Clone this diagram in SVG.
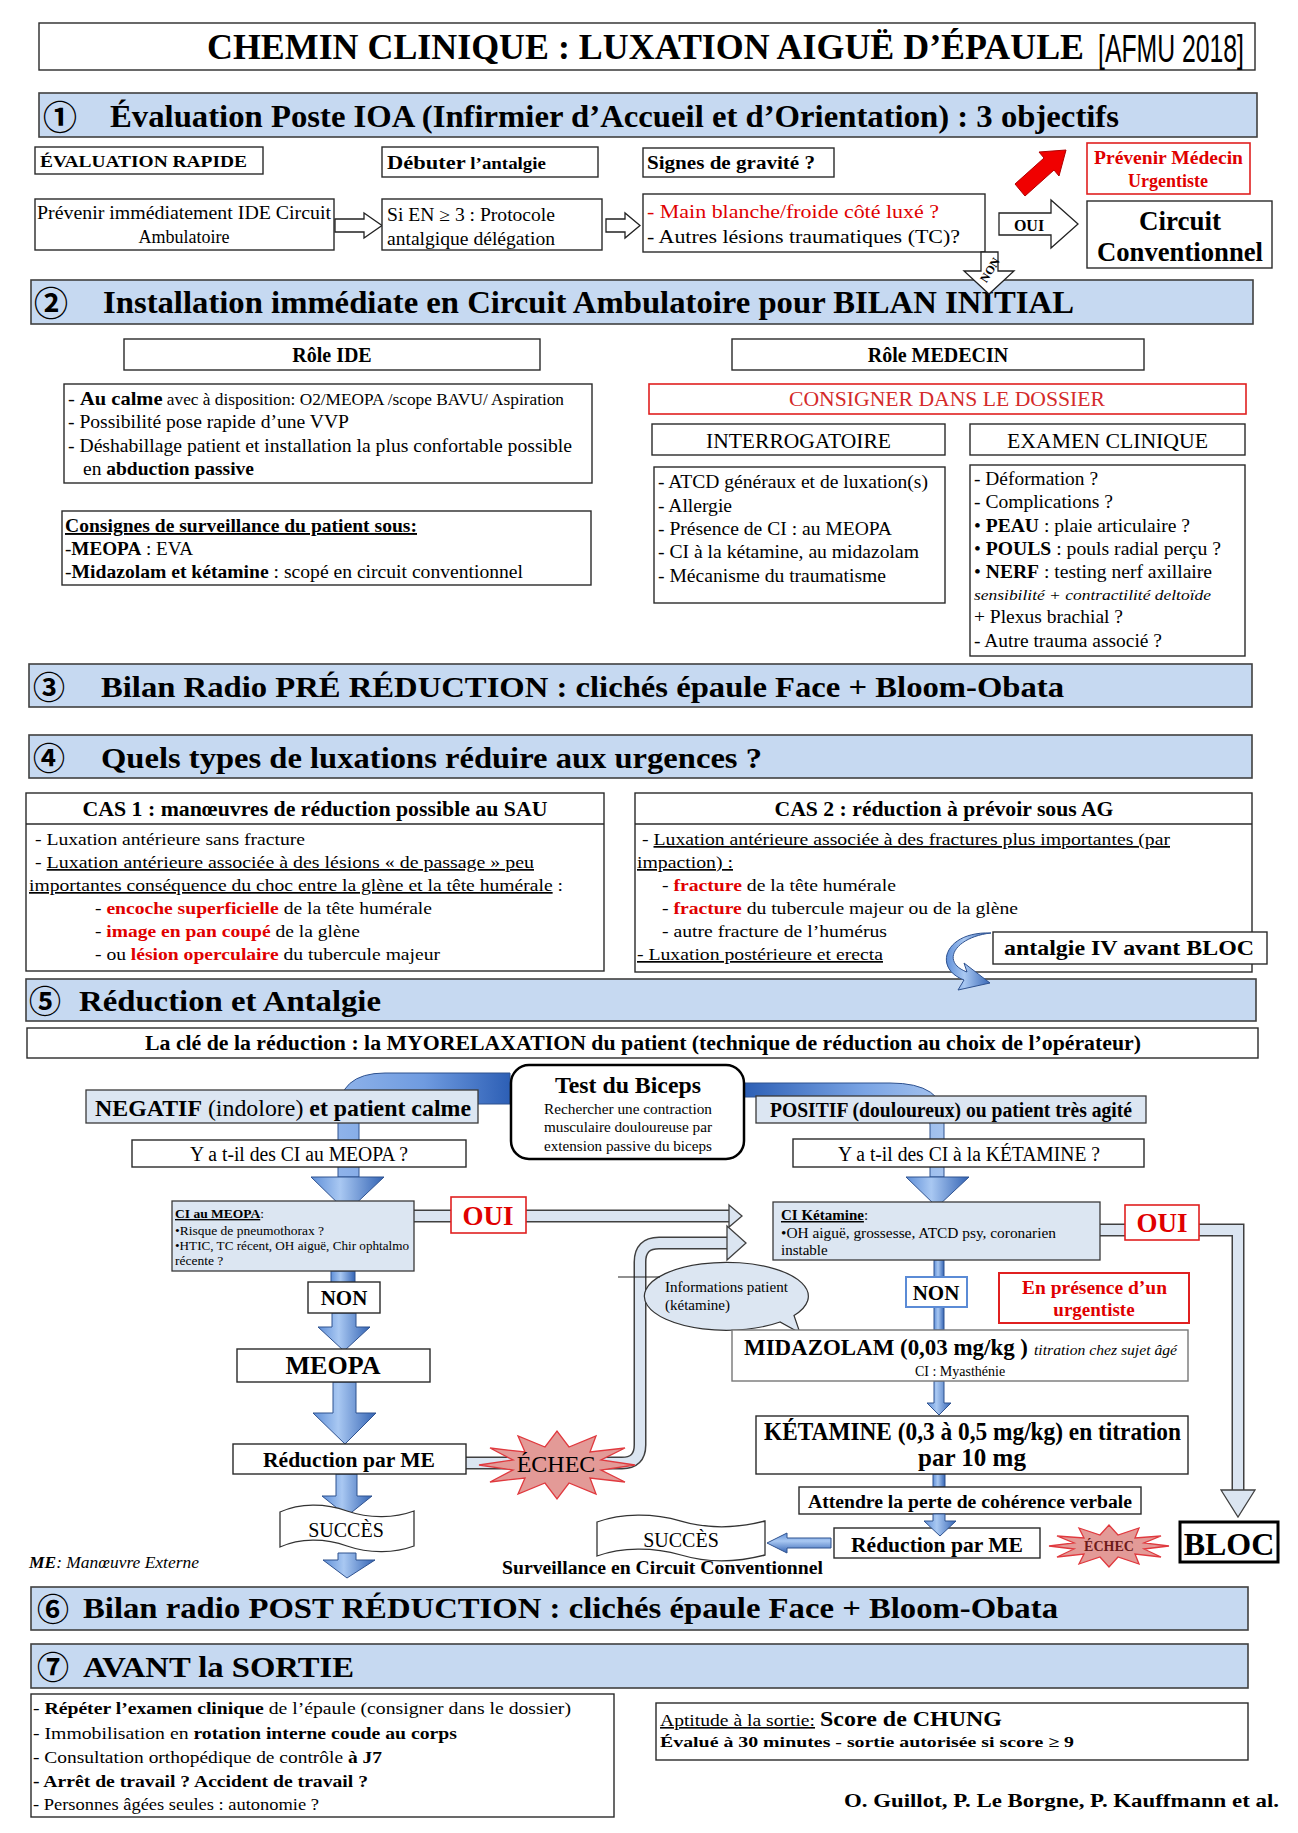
<svg xmlns="http://www.w3.org/2000/svg" width="1298" height="1833" viewBox="0 0 1298 1833">
<defs>
<style>
text{font-family:'Liberation Serif','Times New Roman',serif;fill:#000}
.b{font-weight:bold}
.i{font-style:italic}
.r{fill:#e00000}
.r2{fill:#d42a2a}
.u{text-decoration:underline}
.c{text-anchor:middle}
.box{fill:#fff;stroke:#2a2a2a;stroke-width:1.4}
.bar{fill:#c6d9f1;stroke:#404040;stroke-width:1.6}
.lb{fill:#dce6f2;stroke:#3a3a3a;stroke-width:1.3}
.rbox{fill:#fff;stroke:#e02020;stroke-width:1.6}
.num{font-family:'Noto Sans CJK JP','DejaVu Sans',sans-serif;text-anchor:middle;font-weight:bold}
.harrow{fill:#fff;stroke:#222;stroke-width:1.3}
.bo{fill:none;stroke:#404040;stroke-width:13}
.bi{fill:none;stroke:#dbe5f1;stroke-width:10}
.bh{fill:#dbe5f1;stroke:#404040;stroke-width:1.3}
.ga{fill:url(#gA);stroke:#2f528f;stroke-width:1}
.gv{fill:url(#gAv);stroke:#2f528f;stroke-width:1}
.star{fill:#e39a97;stroke:#e0393e;stroke-width:1.3}
</style>
<linearGradient id="gA" x1="0" y1="0" x2="1" y2="0">
<stop offset="0" stop-color="#5f8fd8"/><stop offset="0.4" stop-color="#a9c8f2"/><stop offset="1" stop-color="#3464b4"/>
</linearGradient>
<linearGradient id="gAv" x1="0" y1="0" x2="0" y2="1">
<stop offset="0" stop-color="#5f8fd8"/><stop offset="0.4" stop-color="#a9c8f2"/><stop offset="1" stop-color="#3464b4"/>
</linearGradient>
<linearGradient id="gL" gradientUnits="userSpaceOnUse" x1="338" y1="0" x2="510" y2="0">
<stop offset="0" stop-color="#8fb3ea"/><stop offset="0.5" stop-color="#6f9be0"/><stop offset="1" stop-color="#2d5fb5"/>
</linearGradient>
<linearGradient id="gR" gradientUnits="userSpaceOnUse" x1="744" y1="0" x2="944" y2="0">
<stop offset="0" stop-color="#2d5fb5"/><stop offset="0.6" stop-color="#7aa4e4"/><stop offset="1" stop-color="#a6c4ef"/>
</linearGradient>
</defs>
<rect width="1298" height="1833" fill="#fff"/>

<g id="connectors">
<polygon class="harrow" points="335,219 364,219 364,213 382,225.5 364,238 364,232 335,232"/>
<polygon class="harrow" points="606,219 625,219 625,213 640,225.5 625,238 625,232 606,232"/>
<polygon class="harrow" points="999,213 1051,213 1051,200 1078,224 1051,248 1051,235 999,235"/>
<text class="b c" x="1029" y="231" font-size="16">OUI</text>
<polygon fill="#f00000" stroke="#b00000" stroke-width="1" points="1015,184 1044,158 1039,152 1066,150 1059,176 1054,170 1025,196"/>
<path d="M510,1073 L385,1073 Q338,1073 338,1115 L338,1177 L359,1177 L359,1120 Q359,1104 385,1104 L510,1104 Z" fill="url(#gL)" stroke="#2f528f" stroke-width="1"/>
<polygon class="ga" points="311,1177 384,1177 347,1212"/>
<path d="M744,1083 L890,1083 Q944,1083 944,1120 L944,1177 L930,1177 L930,1125 Q930,1097 890,1097 L744,1097 Z" fill="url(#gR)" stroke="#2f528f" stroke-width="1"/>
<polygon class="ga" points="906,1177 969,1177 937,1207"/>
<path class="bo" d="M413,1216 L731,1216"/><path class="bi" d="M413,1216 L731,1216"/>
<polygon class="bh" points="729,1205 742,1216 729,1227"/>
<path class="bo" d="M466,1463 L622,1463 Q640,1463 640,1445 L640,1262 Q640,1243 659,1243 L729,1243"/>
<path class="bi" d="M466,1463 L622,1463 Q640,1463 640,1445 L640,1262 Q640,1243 659,1243 L729,1243"/>
<polygon class="bh" points="727,1226 746,1243 727,1260"/>
<path class="bo" d="M1100,1230 L1238,1230 L1238,1491"/><path class="bi" d="M1100,1230 L1238,1230 L1238,1491"/>
<polygon class="bh" points="1221,1490 1255,1490 1238,1517"/>
<rect class="ga" x="331" y="1271" width="24" height="12"/>
<polygon class="ga" points="332,1313 356,1313 356,1327 370,1327 344,1351 318,1327 332,1327"/>
<polygon class="ga" points="333,1382 356,1382 356,1413 376,1413 345,1444 313,1413 333,1413"/>
<polygon class="ga" points="336,1474 357,1474 357,1496 372,1496 347,1516 322,1496 336,1496"/>
<polygon class="ga" points="338,1553 356,1553 356,1560 375,1560 347,1578 323,1560 338,1560"/>
<rect class="ga" x="934" y="1260" width="10" height="17"/>
<rect class="ga" x="934" y="1307" width="10" height="23"/>
<polygon class="ga" points="934,1381 944,1381 944,1403 951,1403 939,1415 927,1403 934,1403"/>
<rect class="ga" x="933" y="1474" width="12" height="13"/>
<polygon class="gv" points="831,1538 787,1538 787,1533 767,1543 787,1553 787,1548 831,1548"/>
</g>

<g id="title">
<rect class="box" x="39" y="23" width="1216" height="47"/>
<text class="b" x="207" y="59" font-size="36" textLength="877" lengthAdjust="spacingAndGlyphs">CHEMIN CLINIQUE : LUXATION AIGUË D’ÉPAULE</text>
<g transform="translate(1098,62) scale(1,1.55)"><text x="0" y="0" font-size="25" style="font-family:'Liberation Sans',sans-serif" textLength="146" lengthAdjust="spacingAndGlyphs">[AFMU 2018]</text></g>
</g>

<g id="s1">
<rect class="bar" x="39" y="93" width="1218" height="44"/>
<text class="num" x="60" y="130" font-size="34">①</text>
<text class="b" x="110" y="127" font-size="32" textLength="1009" lengthAdjust="spacingAndGlyphs">Évaluation Poste IOA (Infirmier d’Accueil et d’Orientation) : 3 objectifs</text>
</g>
<g id="n-eval-rapide"><rect class="box" x="35" y="147" width="228" height="27"/><text class="b" x="40" y="167" font-size="17" textLength="207" lengthAdjust="spacingAndGlyphs">ÉVALUATION RAPIDE</text></g>
<g id="n-debuter"><rect class="box" x="382" y="147" width="216" height="30"/><text class="b" x="387" y="169" textLength="159" lengthAdjust="spacingAndGlyphs"><tspan font-size="19">Débuter</tspan><tspan font-size="16"> l’antalgie</tspan></text></g>
<g id="n-signes"><rect class="box" x="643" y="148" width="191" height="29"/><text class="b" x="647" y="169" font-size="18" textLength="168" lengthAdjust="spacingAndGlyphs">Signes de gravité ?</text></g>
<g id="n-prevenir-medecin"><rect class="rbox" x="1087" y="143" width="163" height="51"/><text class="b r" x="1094" y="164" font-size="18" textLength="149" lengthAdjust="spacingAndGlyphs">Prévenir Médecin</text><text class="b r c" x="1168" y="187" font-size="18">Urgentiste</text></g>
<g id="n-prevenir-ide"><rect class="box" x="35" y="199" width="299" height="51"/><text x="37" y="219" font-size="18" textLength="294" lengthAdjust="spacingAndGlyphs">Prévenir immédiatement IDE Circuit</text><text class="c" x="184" y="243" font-size="18">Ambulatoire</text></g>
<g id="n-protocole"><rect class="box" x="382" y="199" width="220" height="51"/><text x="387" y="221" font-size="18" textLength="168" lengthAdjust="spacingAndGlyphs">Si EN ≥ 3 : Protocole</text><text x="387" y="245" font-size="18" textLength="168" lengthAdjust="spacingAndGlyphs">antalgique délégation</text></g>
<g id="n-gravite"><rect class="box" x="643" y="194" width="342" height="58"/><text class="r" x="647" y="218" font-size="18" textLength="292" lengthAdjust="spacingAndGlyphs">- Main blanche/froide côté luxé ?</text><text x="647" y="243" font-size="18" textLength="313" lengthAdjust="spacingAndGlyphs">- Autres lésions traumatiques (TC)?</text></g>
<g id="n-circuit-conv"><rect class="box" x="1087" y="201" width="185" height="67"/><text class="b c" x="1180" y="230" font-size="27">Circuit</text><text class="b" x="1097" y="261" font-size="27" textLength="166" lengthAdjust="spacingAndGlyphs">Conventionnel</text></g>

<g id="s2">
<rect class="bar" x="31" y="280" width="1222" height="44"/>
<text class="num" x="51" y="316" font-size="34">②</text>
<text class="b" x="103" y="313" font-size="32" textLength="971" lengthAdjust="spacingAndGlyphs">Installation immédiate en Circuit Ambulatoire pour BILAN INITIAL</text>
</g>
<g id="n-role-ide"><rect class="box" x="124" y="339" width="416" height="31"/><text class="b c" x="332" y="362" font-size="20">Rôle IDE</text></g>
<g id="n-role-medecin"><rect class="box" x="732" y="339" width="412" height="31"/><text class="b c" x="938" y="362" font-size="20">Rôle MEDECIN</text></g>
<g id="n-ide-list"><rect class="box" x="64" y="384" width="528" height="99"/>
<text x="68" y="405" textLength="496" lengthAdjust="spacingAndGlyphs"><tspan font-size="19">- </tspan><tspan class="b" font-size="19">Au calme</tspan><tspan font-size="16"> avec à disposition: O2/MEOPA /scope BAVU/ Aspiration</tspan></text>
<text x="68" y="428" font-size="19" textLength="281" lengthAdjust="spacingAndGlyphs">- Possibilité pose rapide d’une VVP</text>
<text x="68" y="452" font-size="19" textLength="504" lengthAdjust="spacingAndGlyphs">- Déshabillage patient et installation la plus confortable possible</text>
<text x="83" y="475" font-size="19" textLength="171" lengthAdjust="spacingAndGlyphs">en <tspan class="b">abduction passive</tspan></text>
</g>
<g id="n-consignes"><rect class="box" x="62" y="511" width="529" height="74"/>
<text class="b u" x="65" y="532" font-size="19" textLength="352" lengthAdjust="spacingAndGlyphs">Consignes de surveillance du patient sous:</text>
<text x="65" y="555" font-size="19" textLength="128" lengthAdjust="spacingAndGlyphs">-<tspan class="b">MEOPA</tspan> : EVA</text>
<text x="65" y="578" font-size="19" textLength="458" lengthAdjust="spacingAndGlyphs">-<tspan class="b">Midazolam et kétamine</tspan> : scopé en circuit conventionnel</text>
</g>
<g id="n-consigner"><rect class="rbox" x="649" y="384" width="597" height="30"/><text class="r2" x="789" y="406" font-size="20" textLength="316" lengthAdjust="spacingAndGlyphs">CONSIGNER DANS LE DOSSIER</text></g>
<g id="n-interrogatoire"><rect class="box" x="652" y="424" width="293" height="31"/><text x="706" y="448" font-size="21" textLength="185" lengthAdjust="spacingAndGlyphs">INTERROGATOIRE</text></g>
<g id="n-examen"><rect class="box" x="970" y="424" width="275" height="31"/><text x="1007" y="448" font-size="21" textLength="201" lengthAdjust="spacingAndGlyphs">EXAMEN CLINIQUE</text></g>
<g id="n-interrog-list"><rect class="box" x="654" y="467" width="291" height="136"/>
<text x="658" y="488" font-size="19" textLength="270" lengthAdjust="spacingAndGlyphs">- ATCD généraux et de luxation(s)</text>
<text x="658" y="512" font-size="19" textLength="74" lengthAdjust="spacingAndGlyphs">- Allergie</text>
<text x="658" y="535" font-size="19" textLength="234" lengthAdjust="spacingAndGlyphs">- Présence de CI : au MEOPA</text>
<text x="658" y="558" font-size="19" textLength="261" lengthAdjust="spacingAndGlyphs">- CI à la kétamine, au midazolam</text>
<text x="658" y="582" font-size="19" textLength="228" lengthAdjust="spacingAndGlyphs">- Mécanisme du traumatisme</text>
</g>
<g id="n-examen-list"><rect class="box" x="970" y="465" width="275" height="191"/>
<text x="974" y="485" font-size="19" textLength="124" lengthAdjust="spacingAndGlyphs">- Déformation ?</text>
<text x="974" y="508" font-size="19" textLength="139" lengthAdjust="spacingAndGlyphs">- Complications ?</text>
<text x="974" y="532" font-size="19" textLength="216" lengthAdjust="spacingAndGlyphs">• <tspan class="b">PEAU</tspan> : plaie articulaire ?</text>
<text x="974" y="555" font-size="19" textLength="247" lengthAdjust="spacingAndGlyphs">• <tspan class="b">POULS</tspan> : pouls radial perçu ?</text>
<text x="974" y="578" font-size="19" textLength="238" lengthAdjust="spacingAndGlyphs">• <tspan class="b">NERF</tspan> : testing nerf axillaire</text>
<text class="i" x="974" y="600" font-size="15" textLength="237" lengthAdjust="spacingAndGlyphs">sensibilité + contractilité deltoïde</text>
<text x="974" y="623" font-size="19" textLength="149" lengthAdjust="spacingAndGlyphs">+ Plexus brachial ?</text>
<text x="974" y="647" font-size="18" textLength="188" lengthAdjust="spacingAndGlyphs">- Autre trauma associé ?</text>
</g>

<g id="s3">
<rect class="bar" x="29" y="664" width="1223" height="43"/>
<text class="num" x="49" y="699" font-size="32">③</text>
<text class="b" x="101" y="697" font-size="30" textLength="963" lengthAdjust="spacingAndGlyphs">Bilan Radio PRÉ RÉDUCTION : clichés épaule Face + Bloom-Obata</text>
</g>
<g id="s4">
<rect class="bar" x="29" y="735" width="1223" height="43"/>
<text class="num" x="49" y="770" font-size="32">④</text>
<text class="b" x="101" y="768" font-size="30" textLength="661" lengthAdjust="spacingAndGlyphs">Quels types de luxations réduire aux urgences ?</text>
</g>
<g id="n-cas1"><rect class="box" x="26" y="793" width="578" height="178"/><line x1="26" y1="824" x2="604" y2="824" stroke="#2a2a2a" stroke-width="1.4"/>
<text class="b" x="82.5" y="816" font-size="20" textLength="465" lengthAdjust="spacingAndGlyphs">CAS 1 : manœuvres de réduction possible au SAU</text>
<text x="35" y="845" font-size="17" textLength="270" lengthAdjust="spacingAndGlyphs">- Luxation antérieure sans fracture</text>
<text x="35" y="868" font-size="17" textLength="499" lengthAdjust="spacingAndGlyphs">- <tspan class="u">Luxation antérieure associée à des lésions « de passage »  peu</tspan></text>
<text x="29" y="891" font-size="17" textLength="534" lengthAdjust="spacingAndGlyphs"><tspan class="u">importantes conséquence du choc entre la glène et la tête humérale</tspan> :</text>
<text x="95" y="914" font-size="17" textLength="337" lengthAdjust="spacingAndGlyphs">- <tspan class="b r">encoche superficielle</tspan> de la tête humérale</text>
<text x="95" y="937" font-size="17" textLength="265" lengthAdjust="spacingAndGlyphs">- <tspan class="b r">image en pan coupé</tspan> de la glène</text>
<text x="95" y="960" font-size="17" textLength="345" lengthAdjust="spacingAndGlyphs">- ou <tspan class="b r">lésion operculaire</tspan> du tubercule majeur</text>
</g>
<g id="n-cas2"><rect class="box" x="635" y="793" width="617" height="179"/><line x1="635" y1="824" x2="1252" y2="824" stroke="#2a2a2a" stroke-width="1.4"/>
<text class="b" x="774.5" y="816" font-size="20" textLength="339" lengthAdjust="spacingAndGlyphs">CAS 2 : réduction à prévoir sous AG</text>
<text x="642" y="845" font-size="17" textLength="528" lengthAdjust="spacingAndGlyphs">- <tspan class="u">Luxation antérieure associée à des fractures plus importantes (par</tspan></text>
<text class="u" x="637" y="868" font-size="17" textLength="96" lengthAdjust="spacingAndGlyphs">impaction) :</text>
<text x="662" y="891" font-size="17" textLength="234" lengthAdjust="spacingAndGlyphs">- <tspan class="b r">fracture</tspan> de la tête humérale</text>
<text x="662" y="914" font-size="17" textLength="356" lengthAdjust="spacingAndGlyphs">- <tspan class="b r">fracture</tspan> du tubercule majeur ou de la glène</text>
<text x="662" y="937" font-size="17" textLength="225" lengthAdjust="spacingAndGlyphs">- autre fracture de l’humérus</text>
<text class="u" x="637" y="960" font-size="17" textLength="246" lengthAdjust="spacingAndGlyphs">- Luxation postérieure et erecta</text>
</g>
<g id="n-antalgie-iv"><rect class="box" x="993" y="932" width="274" height="32"/><text class="b" x="1004" y="955" font-size="22" textLength="250" lengthAdjust="spacingAndGlyphs">antalgie IV avant BLOC</text></g>

<g id="s5">
<rect class="bar" x="26" y="979" width="1230" height="42"/>
<text class="num" x="45" y="1013" font-size="32">⑤</text>
<text class="b" x="79" y="1011" font-size="30" textLength="302" lengthAdjust="spacingAndGlyphs">Réduction et Antalgie</text>
</g>
<g id="n-myorelax"><rect class="box" x="27" y="1028" width="1231" height="30"/><text class="b" x="145" y="1050" font-size="20" textLength="996" lengthAdjust="spacingAndGlyphs">La clé de la réduction : la MYORELAXATION du patient (technique de réduction au choix de l’opérateur)</text></g>

<g id="n-test-biceps"><rect x="511" y="1065" width="233" height="94" rx="18" fill="#fff" stroke="#000" stroke-width="2.5"/>
<text class="b" x="555" y="1093" font-size="23" textLength="146" lengthAdjust="spacingAndGlyphs">Test du Biceps</text>
<text x="544" y="1114" font-size="14.5" textLength="168" lengthAdjust="spacingAndGlyphs">Rechercher une contraction</text>
<text x="544" y="1132" font-size="14.5" textLength="168" lengthAdjust="spacingAndGlyphs">musculaire douloureuse par</text>
<text x="544" y="1151" font-size="14.5" textLength="168" lengthAdjust="spacingAndGlyphs">extension passive du biceps</text>
</g>
<g id="n-negatif"><rect class="lb" x="86" y="1090" width="392" height="33"/><text x="95" y="1116" font-size="24" textLength="376" lengthAdjust="spacingAndGlyphs"><tspan class="b">NEGATIF</tspan> (indolore) <tspan class="b">et patient calme</tspan></text></g>
<g id="n-positif"><rect class="lb" x="756" y="1096" width="390" height="27"/><text class="b" x="770" y="1117" font-size="20" textLength="362" lengthAdjust="spacingAndGlyphs">POSITIF (douloureux) ou patient très agité</text></g>
<g id="n-q-meopa"><rect class="box" x="132" y="1140" width="334" height="27"/><text x="190" y="1161" font-size="20" textLength="218" lengthAdjust="spacingAndGlyphs">Y a t-il des CI au MEOPA ?</text></g>
<g id="n-q-ketamine"><rect class="box" x="793" y="1139" width="351" height="28"/><text x="838" y="1161" font-size="20" textLength="262" lengthAdjust="spacingAndGlyphs">Y a t-il des CI à la KÉTAMINE ?</text></g>
<g id="n-ci-meopa"><rect class="lb" x="172" y="1201" width="242" height="70"/>
<text x="175" y="1218" font-size="13.5"><tspan class="b u">CI au MEOPA</tspan>:</text>
<text x="175" y="1235" font-size="13.5">•Risque de pneumothorax ?</text>
<text x="175" y="1250" font-size="13.5" textLength="234" lengthAdjust="spacingAndGlyphs">•HTIC, TC récent, OH aiguë, Chir ophtalmo</text>
<text x="175" y="1265" font-size="13.5">récente ?</text>
</g>
<g id="n-oui-left"><rect class="rbox" x="451" y="1197" width="75" height="36"/><text class="b r c" x="488" y="1225" font-size="27">OUI</text></g>
<g id="n-ci-ketamine"><rect class="lb" x="773" y="1202" width="327" height="58"/>
<text x="781" y="1220" font-size="15"><tspan class="b u">CI Kétamine</tspan>:</text>
<text x="781" y="1238" font-size="15" textLength="275" lengthAdjust="spacingAndGlyphs">•OH  aiguë, grossesse, ATCD psy, coronarien</text>
<text x="781" y="1255" font-size="15">instable</text>
</g>
<g id="n-oui-right"><rect class="rbox" x="1125" y="1205" width="74" height="35"/><text class="b r c" x="1162" y="1232" font-size="27">OUI</text></g>
<g id="n-non-left"><rect class="box" x="308" y="1282" width="72" height="31"/><text class="b c" x="344" y="1305" font-size="21">NON</text></g>
<g id="n-non-right"><rect x="906" y="1277" width="61" height="30" fill="#fff" stroke="#5b8bd6" stroke-width="2"/><text class="b c" x="936" y="1300" font-size="21">NON</text></g>
<g id="n-urgentiste"><rect x="999" y="1273" width="190" height="50" fill="#fff" stroke="#e02020" stroke-width="2"/><text class="b r" x="1022" y="1294" font-size="19" textLength="145" lengthAdjust="spacingAndGlyphs">En présence d’un</text><text class="b r c" x="1094" y="1316" font-size="19">urgentiste</text></g>
<g id="n-info-patient"><path d="M794,1315.5 A82,34 0 1,0 780,1322 L800,1333 Z" fill="#dce6f2" stroke="#333" stroke-width="1.2"/><line x1="618" y1="1277" x2="660" y2="1277" stroke="#222" stroke-width="1.2"/>
<text x="665" y="1292" font-size="15" textLength="123" lengthAdjust="spacingAndGlyphs">Informations patient</text><text x="665" y="1310" font-size="15">(kétamine)</text></g>
<g id="n-meopa"><rect class="box" x="237" y="1349" width="193" height="33"/><text class="b c" x="333" y="1374" font-size="26">MEOPA</text></g>
<g id="n-midazolam"><rect x="732" y="1330" width="456" height="51" fill="#fff" stroke="#777" stroke-width="1.4"/>
<text class="b" x="744" y="1355" font-size="24" textLength="284" lengthAdjust="spacingAndGlyphs">MIDAZOLAM (0,03 mg/kg )</text>
<text class="i" x="1034" y="1355" font-size="15" textLength="143" lengthAdjust="spacingAndGlyphs">titration chez sujet âgé</text>
<text class="c" x="960" y="1376" font-size="14">CI : Myasthénie</text></g>
<g id="n-ketamine"><rect class="box" x="756" y="1416" width="432" height="58"/>
<text class="b" x="764" y="1440" font-size="25" textLength="417" lengthAdjust="spacingAndGlyphs">KÉTAMINE (0,3 à 0,5 mg/kg) en titration</text>
<text class="b c" x="972" y="1466" font-size="25">par 10 mg</text></g>
<g id="n-attendre"><rect class="box" x="799" y="1487" width="342" height="27"/><text class="b" x="808" y="1508" font-size="18" textLength="324" lengthAdjust="spacingAndGlyphs">Attendre la perte de cohérence verbale</text></g>
<g id="n-reduction-left"><rect class="box" x="233" y="1444" width="233" height="30"/><text class="b" x="263" y="1467" font-size="21" textLength="172" lengthAdjust="spacingAndGlyphs">Réduction par ME</text></g>
<g id="n-reduction-right"><rect class="box" x="834" y="1528" width="206" height="30"/><text class="b" x="851" y="1552" font-size="21" textLength="172" lengthAdjust="spacingAndGlyphs">Réduction par ME</text></g>
<g id="n-echec-left"><polygon class="star" points="635,1465 601,1470 625,1482 590,1478 596,1494 569,1483 557,1499 545,1483 518,1494 525,1478 490,1482 513,1470 479,1465 513,1460 490,1448 525,1452 518,1436 545,1447 557,1431 569,1447 596,1436 590,1452 625,1448 601,1460"/><text class="c" x="556" y="1472" font-size="24">ÉCHEC</text></g>
<g id="n-echec-right"><polygon class="star" points="1169,1546 1144,1549 1161,1557 1135,1554 1139,1564 1118,1557 1109,1567 1100,1557 1079,1564 1084,1554 1057,1557 1074,1549 1049,1546 1074,1543 1057,1536 1084,1538 1079,1528 1100,1535 1109,1525 1118,1535 1139,1528 1135,1538 1161,1536 1144,1543"/><text class="b c" x="1109" y="1551" font-size="14" style="fill:#6b1a1a">ÉCHEC</text></g>
<g id="n-succes-left"><path d="M280,1512 C300,1503 325,1503 347,1511 C370,1519 395,1518 414,1511 L414,1546 C395,1553 370,1554 347,1546 C325,1538 300,1538 280,1547 Z" fill="#fff" stroke="#333" stroke-width="1.3"/><text class="c" x="346" y="1537" font-size="20">SUCCÈS</text></g>
<g id="n-succes-right"><path d="M597,1522 C622,1513 653,1513 681,1521 C708,1529 738,1528 765,1521 L765,1555 C738,1562 708,1563 681,1555 C653,1547 622,1547 597,1556 Z" fill="#fff" stroke="#333" stroke-width="1.3"/><text class="c" x="681" y="1547" font-size="20">SUCCÈS</text></g>
<g id="n-bloc"><rect x="1180" y="1522" width="98" height="40" fill="#fff" stroke="#000" stroke-width="3"/><text class="b c" x="1229" y="1555" font-size="32">BLOC</text></g>
<g id="n-me-note"><text class="i" x="29" y="1568" font-size="16" textLength="170" lengthAdjust="spacingAndGlyphs"><tspan class="b">ME</tspan>: Manœuvre Externe</text></g>
<g id="n-surveillance"><text class="b" x="502" y="1574" font-size="18" textLength="321" lengthAdjust="spacingAndGlyphs">Surveillance en Circuit Conventionnel</text></g>

<g id="s6">
<rect class="bar" x="31" y="1587" width="1217" height="43"/>
<text class="num" x="53" y="1621" font-size="32">⑥</text>
<text class="b" x="83" y="1618" font-size="29" textLength="975" lengthAdjust="spacingAndGlyphs">Bilan radio POST RÉDUCTION : clichés épaule Face + Bloom-Obata</text>
</g>
<g id="s7">
<rect class="bar" x="31" y="1644" width="1217" height="44"/>
<text class="num" x="53" y="1679" font-size="32">⑦</text>
<text class="b" x="83" y="1677" font-size="29" textLength="271" lengthAdjust="spacingAndGlyphs">AVANT la SORTIE</text>
</g>
<g id="n-sortie-list"><rect class="box" x="31" y="1694" width="583" height="123"/>
<text x="33" y="1714" font-size="17" textLength="538" lengthAdjust="spacingAndGlyphs">- <tspan class="b">Répéter l’examen clinique</tspan> de l’épaule (consigner dans le dossier)</text>
<text x="33" y="1739" font-size="17" textLength="424" lengthAdjust="spacingAndGlyphs">- Immobilisation en <tspan class="b">rotation interne coude au corps</tspan></text>
<text x="33" y="1763" font-size="17" textLength="349" lengthAdjust="spacingAndGlyphs">- Consultation orthopédique de contrôle <tspan class="b">à J7</tspan></text>
<text class="b" x="33" y="1787" font-size="17" textLength="335" lengthAdjust="spacingAndGlyphs">- Arrêt de travail ? Accident de travail ?</text>
<text x="33" y="1810" font-size="17" textLength="286" lengthAdjust="spacingAndGlyphs">- Personnes âgées seules : autonomie ?</text>
</g>
<g id="n-chung"><rect class="box" x="656" y="1703" width="592" height="57"/>
<text class="u" x="660" y="1726" font-size="16" textLength="155" lengthAdjust="spacingAndGlyphs">Aptitude à la sortie:</text>
<text class="b" x="820" y="1726" font-size="22" textLength="182" lengthAdjust="spacingAndGlyphs">Score de CHUNG</text>
<text class="b" x="660" y="1747" font-size="15" textLength="414" lengthAdjust="spacingAndGlyphs">Évalué à 30 minutes - sortie autorisée si score ≥  9</text>
</g>
<g id="n-authors"><text class="b" x="844" y="1807" font-size="19" textLength="435" lengthAdjust="spacingAndGlyphs">O. Guillot, P. Le Borgne, P. Kauffmann et al.</text></g>

<g id="connectors-top">
<polygon class="harrow" points="981,252 998,252 998,271 1014,271 989,294 964,271 981,271"/>
<text class="b c" x="990" y="274" font-size="12" transform="rotate(-58 990 270)">NON</text>
<polygon class="ga" points="933,1514 945,1514 945,1521 956,1521 940,1536 924,1521 933,1521"/>
<path class="ga" d="M991,933 C945,931 932,968 964,980 L958,990 L990,983 L964,963 L967,972 C940,962 955,937 991,933 Z"/>
</g>
</svg>
